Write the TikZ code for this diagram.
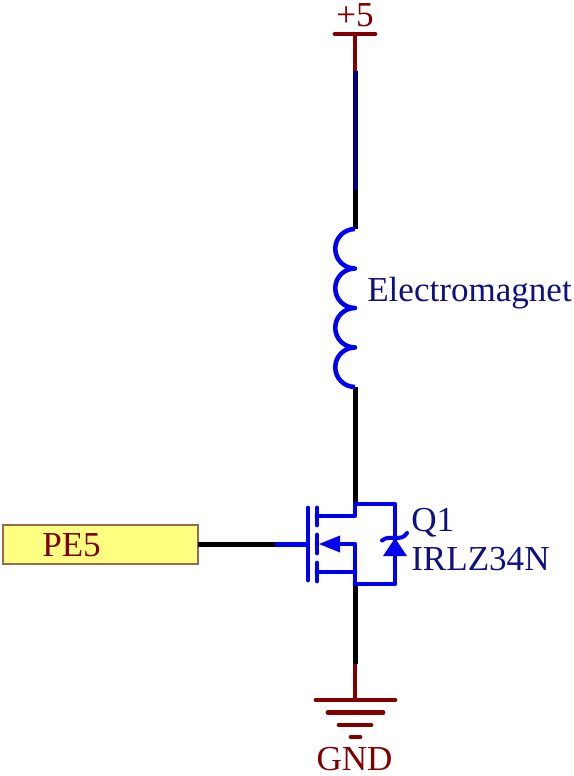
\documentclass[tikz,border=0pt]{standalone}
\usepackage{fontspec}
\setmainfont{Liberation Serif}
\definecolor{pwr}{HTML}{800000}
\definecolor{net}{HTML}{00007F}
\definecolor{part}{HTML}{0000F0}
\definecolor{txtblue}{HTML}{101080}
\definecolor{portfill}{HTML}{FFFF80}
\definecolor{portedge}{HTML}{9A6A50}
\tikzset{
  x=0.75pt,y=-0.75pt,
  wire/.style={line width=3.75pt,black},
  pwrline/.style={line width=3.6pt,pwr,line cap=round},
  netline/.style={line width=3.75pt,net},
  partline/.style={line width=3.6pt,part,line cap=round,line join=round},
  pwrtext/.style={text=pwr,font=\fontsize{26.3pt}{28pt}\selectfont,inner sep=0pt},
  parttext/.style={text=txtblue,font=\fontsize{26.3pt}{28pt}\selectfont,inner sep=0pt,anchor=base west},
  port/.style={draw=portedge,fill=portfill,line width=0.9pt,minimum width=146.25pt,minimum height=29.25pt,inner sep=0pt,outer sep=0pt}
}
\begin{document}
\begin{tikzpicture}
\useasboundingbox (0,0) rectangle (574,776);
% named points
\coordinate (vcc) at (355,34);
\coordinate (vcc1) at (355,71);
\coordinate (vcc2) at (355,190);
\coordinate (coilT) at (355,229);
\coordinate (coilB) at (355,387);
\coordinate (drain) at (355,504);
\coordinate (source) at (355,584);
\coordinate (gndnet) at (355,664);
\coordinate (gnd) at (355,700);
\coordinate (gate) at (308,544.5);
\coordinate (gatemid) at (275,544.5);
% port
\node[port] (pe5) at (100.5,544.5) {};
\node[pwrtext,anchor=base west] (pe5t) at (42,556) {PE5};
% nets
\draw[pwrline,line cap=butt] (vcc) -- (vcc1);
\draw[netline] (vcc1) -- (vcc2);
\draw[wire] (vcc2) -- (coilT);
\draw[wire] (coilB) -- (drain);
\draw[wire] (source) -- (gndnet);
\draw[pwrline,line cap=butt] (gndnet) -- (gnd);
\draw[wire] (pe5.east) -- (gatemid);
% power symbol
\draw[pwrline] (335,34) -- (375,34);
\node[pwrtext] (vcct) at (355,15) {+5};
% ground symbol
\draw[pwrline] (316,700) -- (395,700);
\draw[pwrline] (328,712.5) -- (383,712.5);
\draw[pwrline] (339,725) -- (371,725);
\draw[pwrline] (351,737) -- (360,737);
\node[pwrtext,anchor=base] (gndt) at (354.5,770.5) {GND};
% coil
\draw[partline,line width=3.4pt,line cap=butt]
  (coilT) arc[start angle=90,end angle=270,radius=14.81pt]
  arc[start angle=90,end angle=270,radius=14.81pt]
  arc[start angle=90,end angle=270,radius=14.81pt]
  arc[start angle=90,end angle=270,radius=14.81pt];
\node[parttext] (coilt) at (367,301) {Electromagnet};
% MOSFET
\draw[partline,line cap=butt] (gatemid) -- (gate);
\draw[partline] (308,508) -- (308,580);
\draw[partline] (317,508) -- (317,525);
\draw[partline] (317,535) -- (317,553);
\draw[partline] (317,563) -- (317,581);
\draw[partline] (317,516) -- (355,516) -- (drain) -- (395,504) -- (395,584) -- (source);
\draw[partline] (340,544) -- (355,544) -- (source);
\draw[partline] (317,572) -- (355,572);
\fill[part] (319,544) -- (340,535.5) -- (340,552.5) -- cycle;
% Zener
\fill[part] (395,538) -- (407,556) -- (383,556) -- cycle;
\draw[partline,line width=3pt] (382,540.5) .. controls (386,537) and (390,538) .. (395,538) .. controls (400,538) and (404,538) .. (407,533);
\node[parttext] (qname) at (411,531) {Q1};
\node[parttext] (qtype) at (411,570) {IRLZ34N};
\end{tikzpicture}
\end{document}
